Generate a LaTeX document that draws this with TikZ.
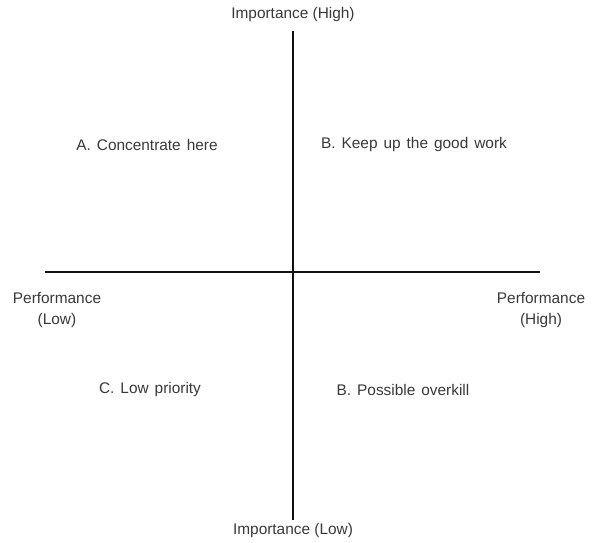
\documentclass[tikz,border=0pt]{standalone}
\usepackage{fontspec}
\setmainfont{Liberation Sans}
\usetikzlibrary{positioning}
\definecolor{ink}{HTML}{111111}
\definecolor{lbl}{HTML}{383838}
\newcommand{\labfont}{\fontsize{15.4}{21}\selectfont}
\newcommand{\widefont}{\fontsize{15.4}{21}\selectfont\spaceskip=6pt plus 1pt\relax}
\tikzset{
  axis/.style={draw=ink, line width=2.6pt},
  lab/.style={text=lbl, font=\labfont, inner sep=0pt},
  labw/.style={lab, font=\widefont},
  labc/.style={lab, align=center},
}
\begin{document}
\begin{tikzpicture}[x=1pt,y=-1pt]
  \useasboundingbox (0,0) rectangle (598,542);
  \coordinate (top) at (293,31);
  \coordinate (bot) at (293,520);
  \coordinate (lft) at (45,272);
  \coordinate (rgt) at (540,272);

  % axes
  \draw[axis] (top) -- (bot);
  \draw[axis] (lft) -- (rgt);

  % axis ends
  \node[lab] (ihigh) at (293,15) {Importance (High)};
  \node[lab] (ilow) at (293,531) {Importance (Low)};
  \node[labc] (plow) at (57,310) {Performance\\(Low)};
  \node[labc] (phigh) at (541,310) {Performance\\(High)};

  % quadrants
  \node[labw] (qa) at (147,145) {A. Concentrate here};
  \node[labw] (qb) at (414,145) {B. Keep up the good work};
  \node[labw] (qc) at (150,390) {C. Low priority};
  \node[labw] (qd) at (403,390) {B. Possible overkill};
\end{tikzpicture}
\end{document}
